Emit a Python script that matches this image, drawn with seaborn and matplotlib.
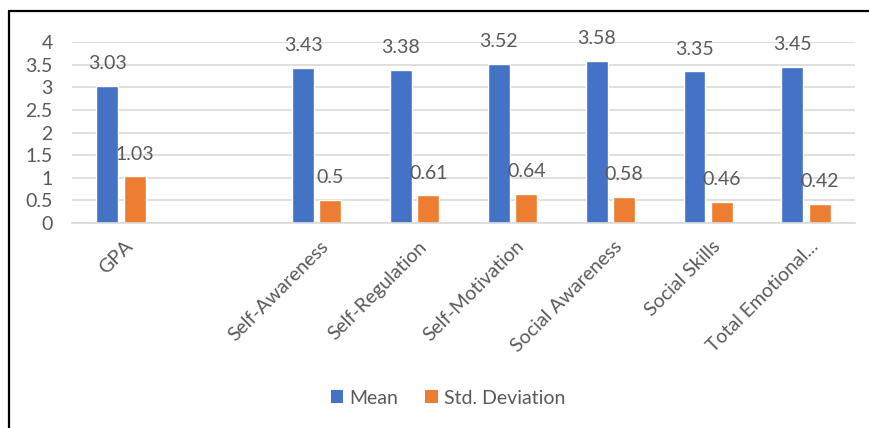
import matplotlib
matplotlib.use("Agg")
import matplotlib.pyplot as plt
import matplotlib.transforms as mtransforms
from matplotlib.lines import Line2D
from matplotlib.patches import Patch
from matplotlib.ticker import FuncFormatter, MultipleLocator
import pandas as pd
import seaborn as sns

# 数据
categories = ["GPA", "", "Self-Awareness", "Self-Regulation", "Self-Motivation",
              "Social Awareness", "Social Skills", "Total Emotional..."]
measured = ["GPA", "Self-Awareness", "Self-Regulation", "Self-Motivation",
            "Social Awareness", "Social Skills", "Total Emotional..."]
mean_vals = [3.03, 3.43, 3.38, 3.52, 3.58, 3.35, 3.45]
std_vals = [1.03, 0.5, 0.61, 0.64, 0.58, 0.46, 0.42]
series = ["Mean", "Std. Deviation"]
colors = {"Mean": "#4472C4", "Std. Deviation": "#ED7D31"}

df = pd.DataFrame({
    "category": measured * 2,
    "series": [series[0]] * len(measured) + [series[1]] * len(measured),
    "value": mean_vals + std_vals,
})

sns.set_theme(style="white")
plt.rcParams["font.family"] = ["Lato", "DejaVu Sans"]
text_color = "#595959"
grid_color = "#D9D9D9"
fs = 14

fig = plt.figure(figsize=(8.69, 4.28), dpi=100)
ax = fig.add_axes([72 / 869, 1 - 223 / 428, (855 - 72) / 869, (223 - 42) / 428])

sns.barplot(data=df, x="category", y="value", hue="series", order=categories,
            hue_order=series, palette=colors, width=0.56, gap=0.2,
            saturation=1, ax=ax, legend=False)

ax.set_ylim(0, 4)
ax.set_xlim(-0.5, len(categories) - 0.5)
ax.yaxis.set_major_locator(MultipleLocator(0.5))
ax.yaxis.set_major_formatter(FuncFormatter(lambda v, p: f"{v:g}"))
ax.grid(axis="y", color=grid_color, linewidth=1.2)
ax.set_axisbelow(True)
for side in ["top", "right", "left"]:
    ax.spines[side].set_visible(False)
ax.spines["bottom"].set_color(grid_color)
ax.spines["bottom"].set_linewidth(1.2)
ax.set_xlabel("")
ax.set_ylabel("")
ax.tick_params(axis="y", length=0, pad=14, labelsize=fs, labelcolor=text_color)
ax.tick_params(axis="x", length=0, pad=15, labelsize=fs, labelcolor=text_color)

offset = mtransforms.ScaledTranslation(9 / 100, 0, fig.dpi_scale_trans)
for lab in ax.get_xticklabels():
    lab.set_rotation(45)
    lab.set_ha("right")
    lab.set_va("center")
    lab.set_rotation_mode("anchor")
    lab.set_transform(lab.get_transform() + offset)

# 数据标签
for cont in ax.containers:
    ax.bar_label(cont, fmt="{:g}", padding=10, fontsize=fs, color=text_color)

# 图例
handles = [Patch(facecolor=colors[s], edgecolor="none") for s in series]
fig.legend(handles, series, loc="center", bbox_to_anchor=(448 / 869, 1 - 398 / 428),
           ncol=2, frameon=False, fontsize=fs, labelcolor=text_color,
           handlelength=0.65, handleheight=0.65, handletextpad=0.3, columnspacing=1.4)

# 外框
fig.add_artist(Line2D([8.5 / 869, 1], [1 - 10.5 / 428, 1 - 10.5 / 428],
                      transform=fig.transFigure, color="black", linewidth=1.6))
fig.add_artist(Line2D([9 / 869, 9 / 869], [0, 1 - 10.5 / 428],
                      transform=fig.transFigure, color="black", linewidth=1.6))

fig.savefig("out.png", dpi=100)
plt.close(fig)
